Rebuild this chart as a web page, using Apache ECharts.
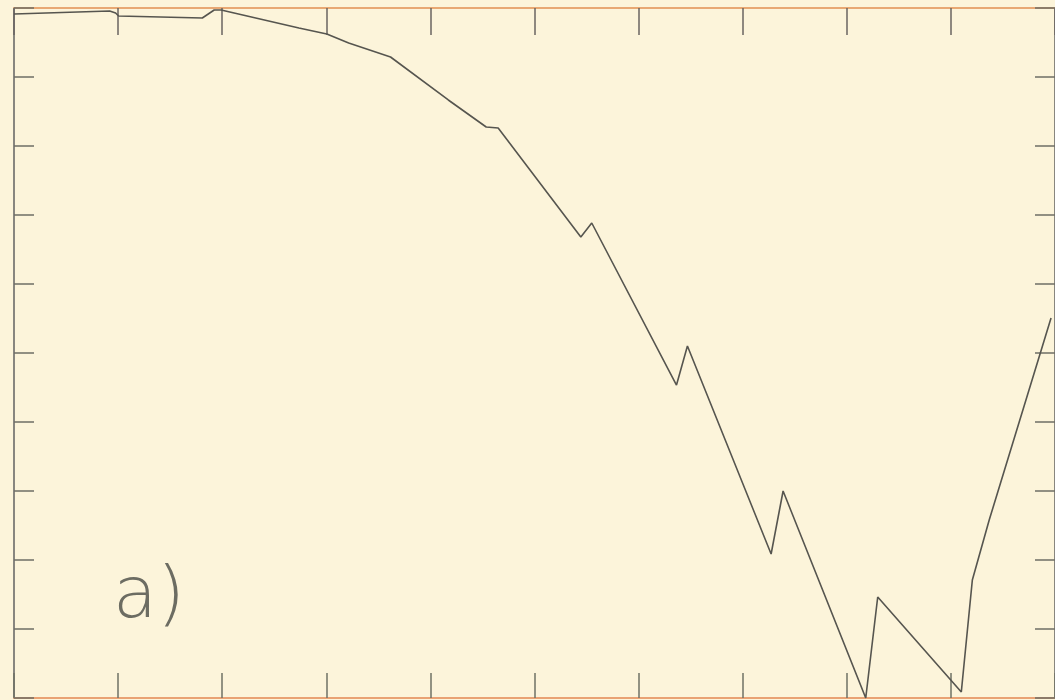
<!DOCTYPE html>
<html>
<head>
<meta charset="utf-8">
<title>a)</title>
<script src="https://cdn.jsdelivr.net/npm/echarts@6/dist/echarts.min.js"></script>
<style>
  html, body { margin: 0; padding: 0; background: #fcf4da; }
  #chart { width: 1055px; height: 700px; }
</style>
</head>
<body>
<div id="chart"></div>
<script>
// Profile samples (x, y) in axis units
const xValues = [0, 0.919, 0.976, 1.005, 1.809, 1.923, 1.990, 2.737, 3.005, 3.215, 3.617,
                 4.172, 4.536, 4.651, 5.445, 5.550, 6.364, 6.469, 7.273, 7.388, 8.182,
                 8.297, 9.100, 9.206, 9.368, 9.962];
const yValues = [9.913, 9.957, 9.928, 9.884, 9.855, 9.971, 9.971, 9.710, 9.623, 9.493, 9.290,
                 8.667, 8.275, 8.261, 6.681, 6.884, 4.536, 5.101, 2.087, 3.000, 0.000,
                 1.464, 0.087, 1.710, 2.580, 5.507];
const panelLabel = 'a)';

const points = xValues.map((x, i) => [x, yValues[i]]);

const chart = echarts.init(document.getElementById('chart'), null, { renderer: 'canvas' });

const hidden = { show: false };

// Frame axis: line on its own edge (not at zero), ticks pointing into the plot
function frameAxis(position, lineColor, lineWidth, tickLen, tickColor) {
  return {
    type: 'value', position: position, min: 0, max: 10, interval: 1,
    axisLine: { show: true, onZero: false, lineStyle: { color: lineColor, width: lineWidth } },
    axisTick: { show: true, inside: true, length: tickLen, lineStyle: { color: tickColor, width: 1.5 } },
    axisLabel: hidden, splitLine: hidden
  };
}

chart.setOption({
  backgroundColor: '#fcf4da',
  animation: false,
  grid: { left: 14, right: -4, top: 8, bottom: 2, containLabel: false },
  xAxis: [
    frameAxis('bottom', '#e9a273', 2, 25, '#6f7266'),
    frameAxis('top', '#e8a873', 2, 27, '#6a6462')
  ],
  yAxis: [
    frameAxis('left', '#626260', 1.5, 20, '#6d6d66'),
    frameAxis('right', '#626260', 1.5, 20, '#6d6d66')
  ],
  series: [
    {
      type: 'line',
      xAxisIndex: 0,
      yAxisIndex: 0,
      data: points,
      symbol: 'none',
      clip: false,
      lineStyle: { color: '#56554f', width: 1.6 }
    }
  ],
  graphic: [
    {
      type: 'text',
      left: 113,
      top: 562,
      style: {
        text: panelLabel,
        fontFamily: 'DejaVu Sans',
        fontWeight: 200,
        fontSize: 72,
        fill: '#6c6c62'
      }
    }
  ]
});
</script>
</body>
</html>
